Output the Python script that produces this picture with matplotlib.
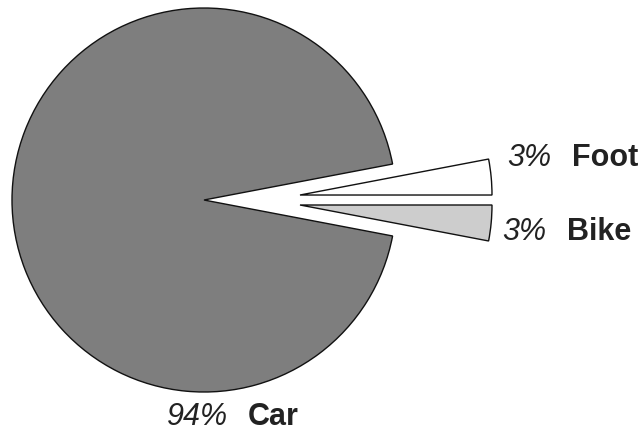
import matplotlib
matplotlib.use("Agg")
import matplotlib.pyplot as plt

# travel mode shares, in percent (counter-clockwise from just below 3 o'clock)
modes = ["Bike", "Foot", "Car"]
shares = [3, 3, 94]
colors = ["#cdcdcd", "#ffffff", "#7e7e7e"]
# pulled-out slices: (dx, dy) in pie-radius units
offsets = {"Bike": (0.50, -0.026), "Foot": (0.50, 0.026), "Car": (0.0, 0.0)}

# label anchors (x of percent, x of name, y centre) in pie-radius units
label_pos = {
    "Foot": (1.578, 1.917, 0.219),
    "Bike": (1.552, 1.891, -0.167),
    "Car": (-0.193, 0.229, -1.130),
}

plt.rcParams["font.family"] = ["Liberation Sans", "DejaVu Sans"]

fig = plt.figure(figsize=(6.43, 4.33), dpi=100)
ax = fig.add_axes([0, 0, 1, 1])

start = -360 * shares[0] / sum(shares)
wedges, _ = ax.pie(
    shares,
    colors=colors,
    startangle=start,
    counterclock=True,
    radius=1.0,
    wedgeprops=dict(edgecolor="#111111", linewidth=1.0),
)
for w, mode in zip(wedges, modes):
    w.set_center(offsets[mode])

ax.set_xlim(-1.0625, 2.2865)
ax.set_ylim(-1.2135, 1.0417)
ax.set_aspect("equal")
ax.axis("off")

for mode, share in zip(modes, shares):
    xp, xn, y = label_pos[mode]
    ax.text(xp, y, f"{share}%", fontsize=22, fontstyle="italic",
            color="#222222", ha="left", va="center")
    ax.text(xn, y, mode, fontsize=22, fontweight="bold",
            color="#222222", ha="left", va="center")

fig.savefig("out.png", dpi=100)
